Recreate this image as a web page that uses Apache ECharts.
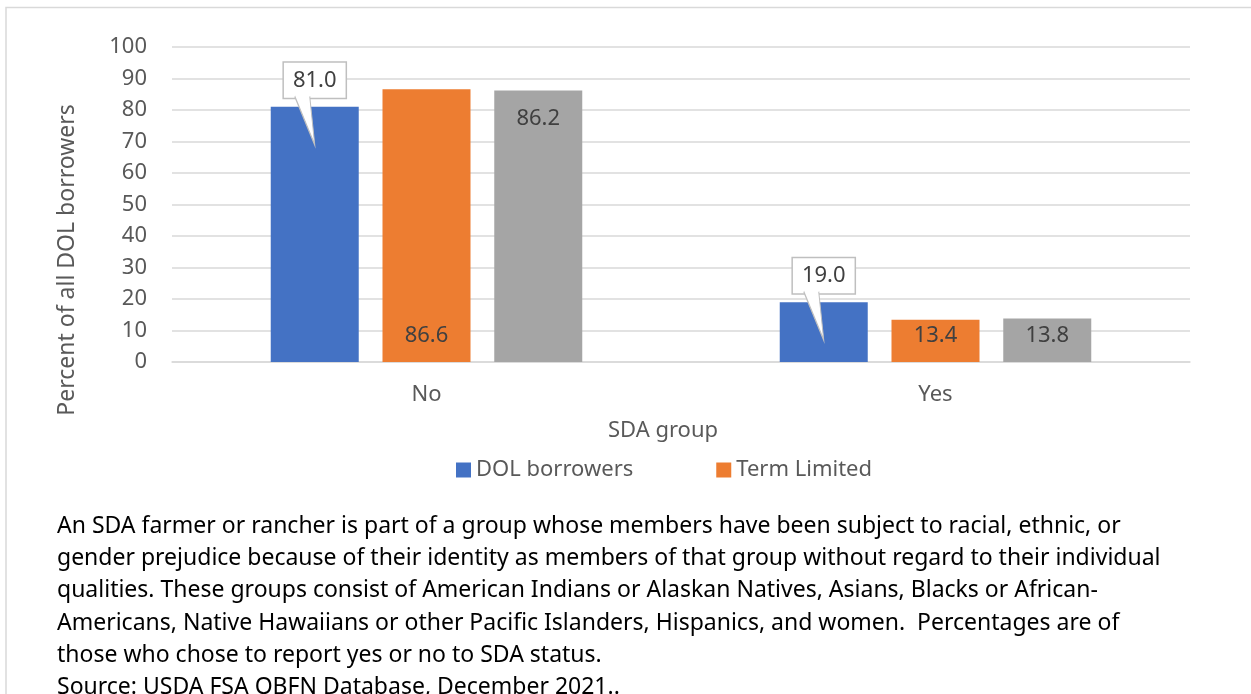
<!DOCTYPE html>
<html>
<head>
<meta charset="utf-8">
<script src="https://cdn.jsdelivr.net/npm/echarts@6/dist/echarts.min.js"></script>
<style>
  html, body { margin: 0; padding: 0; background: #fff; }
  #chart { width: 1251px; height: 694px; }
</style>
</head>
<body>
<div id="chart"></div>
<script>
const categories = ["No", "Yes"];
const dolBorrowers = [81.0, 19.0];
const termLimited = [86.6, 13.4];
const otherGroup = [86.2, 13.8];
const yTicks = { min: 0, max: 100, interval: 10 };
const legendNames = ["DOL borrowers", "Term Limited"];
const noteLines = [
  "An SDA farmer or rancher is part of a group whose members have been subject to racial, ethnic, or",
  "gender prejudice because of their identity as members of that group without regard to their individual",
  "qualities. These groups consist of American Indians or Alaskan Natives, Asians, Blacks or African-",
  "Americans, Native Hawaiians or other Pacific Islanders, Hispanics, and women.  Percentages are of",
  "those who chose to report yes or no to SDA status.",
  "Source: USDA FSA OBFN Database, December 2021.."
];

const font = "'Noto Sans', sans-serif";
const labelGray = "#595959";
const valueGray = "#404040";

const chart = echarts.init(document.getElementById("chart"));

const fmt = p => p.value.toFixed(1);

const option = {
  animation: false,
  textStyle: { fontFamily: font },
  grid: { left: 172, right: 61, top: 47, bottom: 332, containLabel: false },
  legend: {
    data: legendNames,
    left: 451,
    top: 454,
    icon: "rect",
    itemWidth: 15,
    itemHeight: 15,
    itemGap: 83,
    textStyle: { color: labelGray, fontSize: 22, fontFamily: font }
  },
  xAxis: {
    type: "category",
    data: categories,
    axisLine: { show: true, lineStyle: { color: "#d9d9d9", width: 1.5 } },
    axisTick: { show: false },
    axisLabel: { color: labelGray, fontSize: 22, margin: 22 }
  },
  yAxis: {
    type: "value",
    min: yTicks.min,
    max: yTicks.max,
    interval: yTicks.interval,
    axisLine: { show: false },
    axisTick: { show: false },
    axisLabel: { color: labelGray, fontSize: 22, margin: 25 },
    splitLine: { lineStyle: { color: "#d9d9d9", width: 1.5 } }
  },
  series: [
    {
      name: "DOL borrowers",
      type: "bar",
      data: dolBorrowers,
      barWidth: 88,
      barGap: "27%",
      itemStyle: { color: "#4472c4" },
      label: {
        show: true,
        position: "top",
        distance: 9,
        formatter: fmt,
        color: valueGray,
        fontSize: 22,
        backgroundColor: "#fff",
        borderColor: "#bfbfbf",
        borderWidth: 1.5,
        padding: [7, 9, 6, 9]
      },
      // callout pointer under the label box
      markPoint: {
        silent: true,
        symbol: "path://M0 0 L20 48.5 L15 0",
        symbolSize: [20, 48.5],
        symbolOffset: [-10, 13.75],
        symbolKeepAspect: false,
        itemStyle: { color: "#fff", borderColor: "#bfbfbf", borderWidth: 1.5 },
        label: { show: false },
        data: categories.map((c, i) => ({ coord: [c, dolBorrowers[i]] }))
      }
    },
    {
      name: "Term Limited",
      type: "bar",
      data: termLimited,
      barWidth: 88,
      itemStyle: { color: "#ed7d31" },
      label: {
        show: true,
        position: "insideBottom",
        distance: 15,
        formatter: fmt,
        color: valueGray,
        fontSize: 22
      }
    },
    {
      name: "Other",
      type: "bar",
      barWidth: 88,
      itemStyle: { color: "#a5a5a5" },
      data: otherGroup.map((v, i) => ({
        value: v,
        label: { position: i === 0 ? "insideTop" : "insideBottom", distance: i === 0 ? 17 : 15 }
      })),
      label: {
        show: true,
        formatter: fmt,
        color: valueGray,
        fontSize: 22
      }
    }
  ],
  graphic: [
    {
      type: "polyline",
      silent: true,
      shape: { points: [[6, 694], [6, 7.5], [1251, 7.5]] },
      style: { stroke: "#d9d9d9", lineWidth: 1.5, fill: null }
    },
    {
      type: "text",
      x: 67,
      y: 260,
      rotation: Math.PI / 2,
      style: {
        text: "Percent of all DOL borrowers",
        fill: labelGray,
        font: "23px " + font,
        align: "center",
        verticalAlign: "middle"
      }
    },
    {
      type: "text",
      x: 663,
      y: 431,
      style: {
        text: "SDA group",
        fill: labelGray,
        font: "22px " + font,
        align: "center",
        verticalAlign: "middle"
      }
    },
    {
      type: "text",
      x: 57,
      y: 510,
      style: {
        text: noteLines.join("\n"),
        fill: "#000",
        font: "23px " + font,
        lineHeight: 32.3,
        align: "left",
        verticalAlign: "top"
      }
    }
  ]
};

chart.setOption(option);
</script>
</body>
</html>
